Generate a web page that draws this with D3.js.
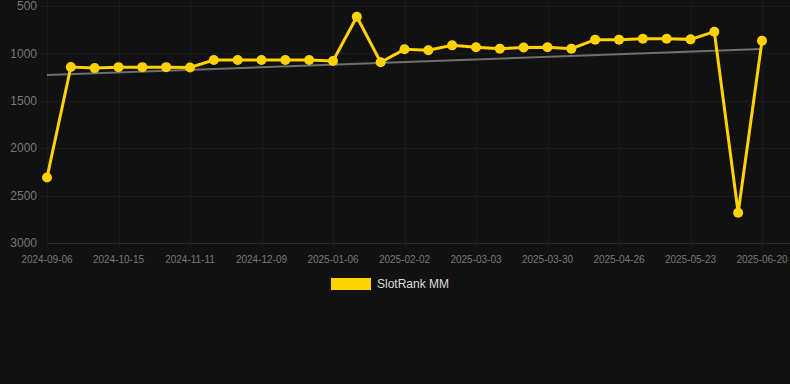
<!DOCTYPE html>
<html>
<head>
<meta charset="utf-8">
<script src="https://cdn.jsdelivr.net/npm/d3@7"></script>
<style>
  html, body { margin: 0; padding: 0; background: #111111; }
  svg { display: block; font-family: "Liberation Sans", Arial, sans-serif; }
</style>
</head>
<body>
<svg id="chart" width="790" height="384"></svg>
<script>
// dates of each rank sample (only every third one is labelled)
var dates = [
  "2024-09-06", "2024-09-19", "2024-10-02", "2024-10-15", "2024-10-24", "2024-11-02",
  "2024-11-11", "2024-11-20", "2024-11-30", "2024-12-09", "2024-12-18", "2024-12-28",
  "2025-01-06", "2025-01-15", "2025-01-24", "2025-02-02", "2025-02-12", "2025-02-21",
  "2025-03-03", "2025-03-12", "2025-03-21", "2025-03-30", "2025-04-08", "2025-04-17",
  "2025-04-26", "2025-05-05", "2025-05-14", "2025-05-23", "2025-06-01", "2025-06-11",
  "2025-06-20"
];
var rankValues = [
  2310, 1143, 1155, 1145, 1145, 1145, 1148, 1070, 1070, 1070, 1070, 1070,
  1080, 613, 1094, 957, 967, 915, 936, 950, 938, 936, 950, 855,
  855, 845, 845, 852, 771, 2681, 866
];
var trendValues = [1228, 953];   // first and last point of the trend line
var yTicks = [500, 1000, 1500, 2000, 2500, 3000];
var seriesName = "SlotRank MM";

var svg = d3.select("#chart");
var plotLeft = 47, plotRight = 762, plotTop = 6, plotBottom = 243;

var x = d3.scalePoint().domain(dates).range([plotLeft, plotRight]);
var y = d3.scaleLinear().domain([500, 3000]).range([plotTop, plotBottom]);

var labelDates = dates.filter(function(d, i) { return i % 3 === 0; });

// grid
var grid = svg.append("g");
grid.selectAll("line.h").data(yTicks).enter().append("line")
  .attr("x1", function(d) { return d === 3000 ? plotLeft : 40; }).attr("x2", 790)
  .attr("y1", function(d) { return Math.round(y(d)) + 0.5; })
  .attr("y2", function(d) { return Math.round(y(d)) + 0.5; })
  .attr("stroke", function(d) { return d === 3000 ? "#2a2a2a" : "#1b1b1b"; })
  .attr("stroke-width", 1);
grid.selectAll("line.v").data(labelDates).enter().append("line")
  .attr("x1", function(d) { return Math.round(x(d)) + 0.5; })
  .attr("x2", function(d) { return Math.round(x(d)) + 0.5; })
  .attr("y1", 0).attr("y2", plotBottom + 5)
  .attr("stroke", "#1b1b1b").attr("stroke-width", 1);

// y axis labels
svg.append("g").selectAll("text").data(yTicks).enter().append("text")
  .attr("x", 37).attr("y", function(d) { return y(d); })
  .attr("dy", "0.35em").attr("text-anchor", "end")
  .attr("fill", "#777").attr("font-size", 12)
  .text(function(d) { return d; });

// x axis labels
svg.append("g").selectAll("text").data(labelDates).enter().append("text")
  .attr("x", function(d) { return x(d); }).attr("y", 263)
  .attr("text-anchor", "middle")
  .attr("fill", "#777").attr("font-size", 10)
  .text(function(d) { return d; });

// trend line
svg.append("line")
  .attr("x1", x(dates[0])).attr("y1", y(trendValues[0]))
  .attr("x2", x(dates[dates.length - 1])).attr("y2", y(trendValues[1]))
  .attr("stroke", "#707070").attr("stroke-width", 2);

// series
var line = d3.line()
  .x(function(d, i) { return x(dates[i]); })
  .y(function(d) { return y(d); });

svg.append("path").datum(rankValues)
  .attr("d", line)
  .attr("fill", "none")
  .attr("stroke", "#ffd200")
  .attr("stroke-width", 3)
  .attr("stroke-linejoin", "miter");

svg.append("g").selectAll("circle").data(rankValues).enter().append("circle")
  .attr("cx", function(d, i) { return x(dates[i]); })
  .attr("cy", function(d) { return y(d); })
  .attr("r", 5)
  .attr("fill", "#ffd200");

// legend
svg.append("rect")
  .attr("x", 331).attr("y", 278).attr("width", 40).attr("height", 12)
  .attr("fill", "#ffd200");
svg.append("text")
  .attr("x", 377).attr("y", 284).attr("dy", "0.35em")
  .attr("fill", "#ddd").attr("font-size", 12)
  .text(seriesName);
</script>
</body>
</html>
